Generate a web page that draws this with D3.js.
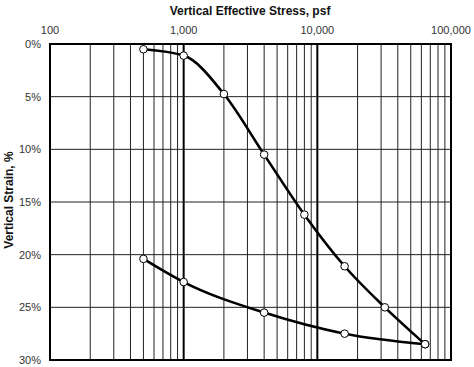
<!DOCTYPE html>
<html><head><meta charset="utf-8">
<script src="https://cdn.jsdelivr.net/npm/d3@7"></script>
<style>body{margin:0;background:#fff}svg{display:block;font-family:"Liberation Sans",Arial,sans-serif}</style>
</head><body><svg id="c" width="474" height="367"></svg>
<script>
const loadStress = [500, 1000, 2000, 4000, 8000, 16000, 32000, 64000];
const loadStrain = [0.5, 1.1, 4.75, 10.5, 16.2, 21.1, 25.0, 28.5];
const unloadStress = [500, 1000, 4000, 16000, 64000];
const unloadStrain = [20.4, 22.6, 25.5, 27.5, 28.5];
const xTickValues = [100, 1000, 10000, 100000];
const xTickLabels = ["100", "1,000", "10,000", "100,000"];
const yTickValues = [0, 5, 10, 15, 20, 25, 30];
const yTickLabels = ["0%", "5%", "10%", "15%", "20%", "25%", "30%"];

const L = 50, R = 451, T = 44, B = 360;
const svg = d3.select("#c");
const x = d3.scaleLog().domain([100, 100000]).range([L, R]);
const y = d3.scaleLinear().domain([0, 30]).range([T, B]);

// minor vertical grid
const minor = [];
for (let d = 100; d < 100000; d *= 10) for (let k = 2; k <= 9; k++) minor.push(d * k);
svg.append("g").selectAll("line").data(minor).join("line")
  .attr("x1", d => x(d)).attr("x2", d => x(d)).attr("y1", T).attr("y2", B)
  .attr("stroke", "#222").attr("stroke-width", 1);
svg.append("g").selectAll("line").data([1000, 10000]).join("line")
  .attr("x1", d => x(d)).attr("x2", d => x(d)).attr("y1", T).attr("y2", B)
  .attr("stroke", "#000").attr("stroke-width", 2);
svg.append("g").selectAll("line").data(yTickValues.slice(1, -1)).join("line")
  .attr("x1", L).attr("x2", R).attr("y1", d => y(d)).attr("y2", d => y(d))
  .attr("stroke", "#222").attr("stroke-width", 1);
svg.append("rect").attr("x", L).attr("y", T).attr("width", R - L).attr("height", B - T)
  .attr("fill", "none").attr("stroke", "#000").attr("stroke-width", 2);

// axes labels
svg.append("g").selectAll("text").data(xTickValues).join("text")
  .attr("x", d => x(d)).attr("y", 34).attr("text-anchor", "middle")
  .attr("font-size", 11).attr("fill", "#333").text((d, i) => xTickLabels[i]);
svg.append("g").selectAll("text").data(yTickValues).join("text")
  .attr("x", 41).attr("y", d => y(d) + 4).attr("text-anchor", "end")
  .attr("font-size", 11).attr("fill", "#333").text((d, i) => yTickLabels[i]);
svg.append("text").attr("x", 250).attr("y", 15).attr("text-anchor", "middle")
  .attr("font-size", 12).attr("font-weight", "bold").attr("fill", "#111").text("Vertical Effective Stress, psf");
svg.append("text").attr("transform", "translate(13,200) rotate(-90)").attr("text-anchor", "middle")
  .attr("font-size", 12).attr("font-weight", "bold").attr("fill", "#111").text("Vertical Strain, %");

const line = d3.line().x(d => x(d[0])).y(d => y(d[1])).curve(d3.curveMonotoneX);
const loadPts = loadStress.map((s, i) => [s, loadStrain[i]]);
const unloadPts = unloadStress.map((s, i) => [s, unloadStrain[i]]);
[loadPts, unloadPts].forEach(p => {
  svg.append("path").attr("d", line(p)).attr("fill", "none").attr("stroke", "#000").attr("stroke-width", 2.6);
});
svg.append("g").selectAll("circle").data(loadPts.concat(unloadPts)).join("circle")
  .attr("cx", d => x(d[0])).attr("cy", d => y(d[1])).attr("r", 3.8)
  .attr("fill", "#fff").attr("stroke", "#000").attr("stroke-width", 1);
</script></body></html>
